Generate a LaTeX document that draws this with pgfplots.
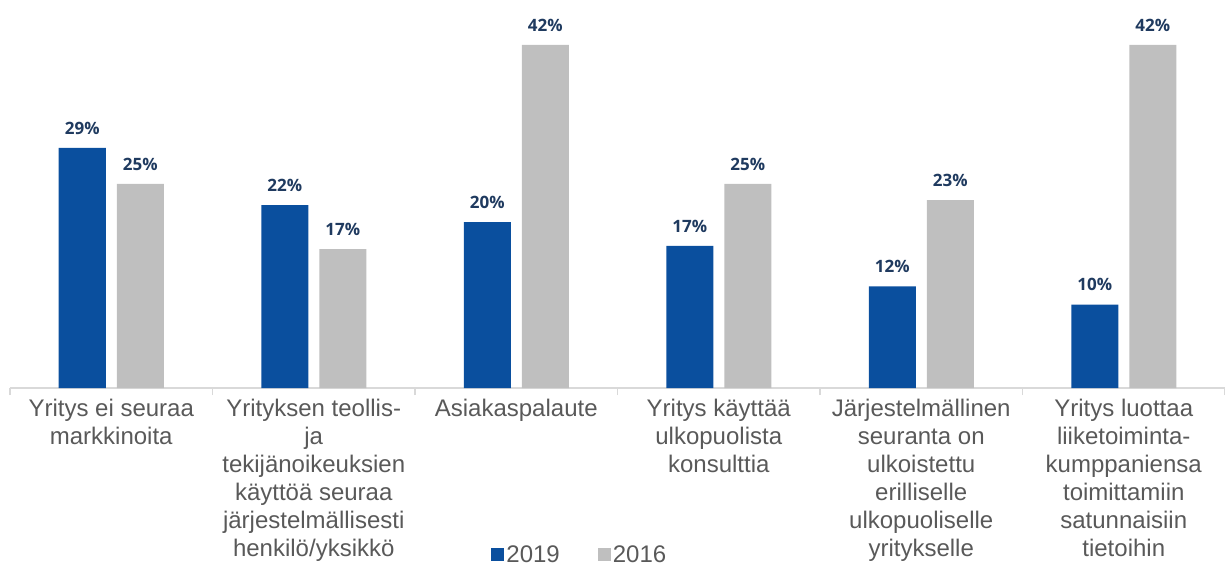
\documentclass[border=0pt]{standalone}
\usepackage{pgfplots}
\pgfplotsset{compat=1.18}
\usepackage{fontspec}
\setmainfont{Liberation Sans}
\newfontfamily\labelfont{Open Sans}
\definecolor{blue19}{HTML}{0A4F9E}
\definecolor{gray16}{HTML}{BFBFBF}
\definecolor{labnavy}{HTML}{1F3A5F}
\definecolor{txtgray}{HTML}{595959}
\definecolor{axgray}{HTML}{D9D9D9}
\begin{document}
\begin{tikzpicture}
\begin{axis}[
  at={(0,0)}, anchor=south west,
  scale only axis,
  width=1215pt, height=388pt,
  xmin=-0.5, xmax=5.5,
  ymin=0, ymax=47.5,
  ybar=11pt, bar width=47pt,
  axis y line=none,
  axis x line*=bottom,
  x axis line style={draw=axgray, line width=1.3pt, -},
  xtick={-0.5,0.5,1.5,2.5,3.5,4.5,5.5},
  x tick label as interval,
  xticklabels={{Yritys ei seuraa\\markkinoita},
    {Yrityksen teollis-\\ja\\tekijänoikeuksien\\käyttöä seuraa\\järjestelmällisesti\\henkilö/yksikkö},
    {Asiakaspalaute},
    {Yritys käyttää\\ulkopuolista\\konsulttia},
    {Järjestelmällinen\\seuranta on\\ulkoistettu\\erilliselle\\ulkopuoliselle\\yritykselle},
    {Yritys luottaa\\liiketoiminta-\\kumppaniensa\\toimittamiin\\satunnaisiin\\tietoihin}},
  x tick label style={align=center, text=txtgray, font=\fontsize{24}{28}\selectfont, yshift=-1pt},
  major tick length=7pt,
  tick align=outside,
  xtick style={draw=axgray, line width=1.3pt},
  /pgf/number format/assume math mode=true,
  nodes near coords={\pgfmathprintnumber[fixed,precision=0]{\pgfplotspointmeta}\%},
  every node near coord/.append style={font=\labelfont\bfseries\fontsize{17}{19}\selectfont, text=labnavy, yshift=10pt},
  legend columns=2,
  legend style={at={(0.469,-0.43)}, anchor=center, draw=none, fill=none,
    font=\fontsize{24}{28}\selectfont, text=txtgray,
    /tikz/every even column/.append style={column sep=36pt}},
  legend image code/.code={\fill[#1, draw=none] (0pt,-6.5pt) rectangle (13pt,6.5pt);},
  clip=false,
]
\addplot[fill=blue19, draw=none] coordinates {(0,29.4) (1,22.4) (2,20.3) (3,17.4) (4,12.45) (5,10.2)};
\addplot[fill=gray16, draw=none] coordinates {(0,25) (1,17) (2,42) (3,25) (4,23) (5,42)};
\legend{2019,2016}
\end{axis}
\pgfresetboundingbox
\path[use as bounding box] (-10pt,-179pt) rectangle (1215pt,388pt);
\end{tikzpicture}
\end{document}
